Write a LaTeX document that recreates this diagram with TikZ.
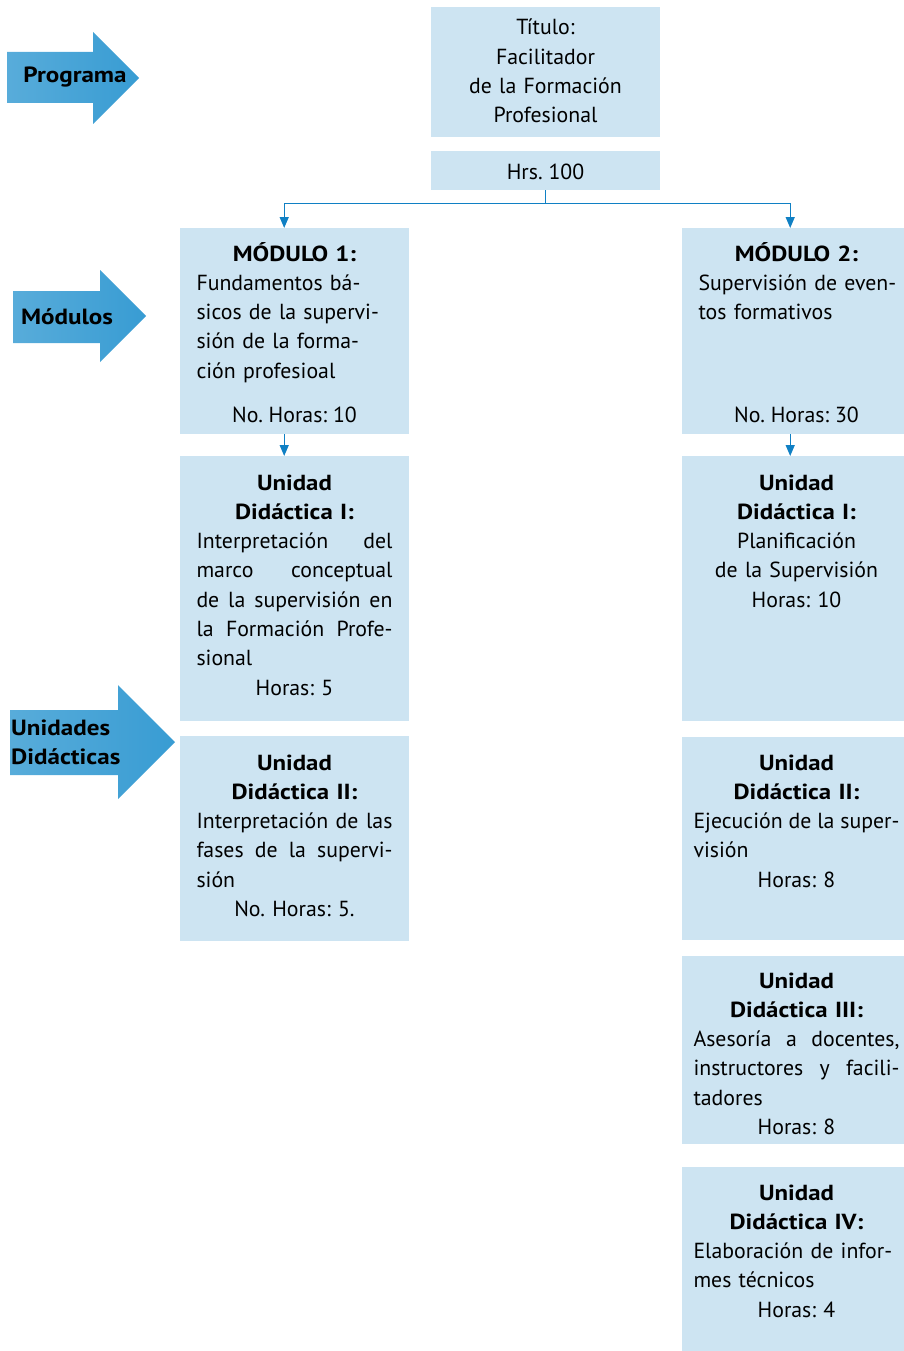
\documentclass[tikz,border=0pt]{standalone}
\usepackage{fontspec}
\setmainfont{PT Sans}[BoldFeatures={FakeStretch=1.14}]
\usepackage{xcolor}
\usetikzlibrary{positioning,arrows.meta}

\definecolor{cajaazul}{RGB}{205,228,242}
\definecolor{lineaazul}{RGB}{16,128,196}
\definecolor{flechaA}{RGB}{88,172,218}
\definecolor{flechaB}{RGB}{130,194,228}
\definecolor{flechaC}{RGB}{56,156,211}

\frenchspacing
% una linea a la izquierda / una linea justificada
\newcommand{\lft}[1]{\leavevmode\hbox to\linewidth{#1\hfil}}
\newcommand{\jst}[1]{\leavevmode\hbox to\linewidth{\spaceskip=.26em plus 1fil\relax #1}}

\begin{document}
\begin{tikzpicture}[x=1pt,y=-1pt,
	box/.style={fill=cajaazul, inner sep=0pt, anchor=north west, minimum width=229pt},
	txt/.style={anchor=base, align=center, inner sep=0pt, font=\fontsize{21.8}{29.3}\selectfont},
	etiq/.style={anchor=base, inner sep=0pt, font=\fontsize{22}{29}\selectfont\bfseries},
	link/.style={draw=lineaazul, line width=1.4pt, -{Triangle[length=11pt,width=9pt]}}]
			
			\useasboundingbox (0,0) rectangle (903,1351);
			
			% flechas de la izquierda
			\shade[left color=flechaA, middle color=flechaB, right color=flechaC]
				(7,52) -- (93,52) -- (93,32) -- (139,78) -- (93,124) -- (93,103) -- (7,103) -- cycle;
			\shade[left color=flechaA, middle color=flechaB, right color=flechaC]
				(13,291) -- (100,291) -- (100,270) -- (146,316) -- (100,362) -- (100,343) -- (13,343) -- cycle;
			\shade[left color=flechaA, middle color=flechaB, right color=flechaC]
				(10,710) -- (118,710) -- (118,685) -- (175,742) -- (118,799) -- (118,775) -- (10,775) -- cycle;
			
			\node[etiq] (prog) at (75,83) {Programa};
			\node[etiq] (mods) at (67,324) {Módulos};
			\node[etiq, text width=130pt, align=left, anchor=base west] (unid) at (11,735) {Unidades\\Didácticas};
			
			% cajas
			\node[box, minimum height=130pt] (tit) at (431,7) {};
			\node[box, minimum height=39pt] (hrs) at (431,151) {};
			\node[box, minimum height=206pt] (modA) at (180,228) {};
			\node[box, minimum height=206pt] (modB) at (682,228) {};
			\node[box, minimum height=265pt] (udAi) at (180,456) {};
			\node[box, minimum height=205pt] (udAii) at (180,736) {};
			\node[box, minimum height=265pt] (udBi) at (682,456) {};
			\node[box, minimum height=203pt] (udBii) at (682,737) {};
			\node[box, minimum height=188pt] (udBiii) at (682,956) {};
			\node[box, minimum height=190pt] (udBiv) at (682,1167) {};
			
			% textos
			\node[txt, text width=229pt] (titT) at (545.5,35) {Título:\\Facilitador\\de la Formación\\Profesional};
			\node[txt] (hrsT) at (545.5,180) {Hrs. 100};
			
			\node[txt, text width=196pt] (modAT) at (294.5,261) {{\bfseries MÓDULO 1:}\\\lft{Fundamentos bá-}\\\lft{sicos de la supervi-}\\\lft{sión de la forma-}\\\lft{ción profesioal}};
			\node[txt] (modAH) at (294.5,422) {No. Horas: 10};
			\node[txt, text width=196pt] (modBT) at (796.5,261) {{\bfseries MÓDULO 2:}\\\lft{Supervisión de even-}\\\lft{tos formativos}};
			\node[txt] (modBH) at (796.5,422) {No. Horas: 30};
			
			\node[txt, text width=196pt] (udAiT) at (294.5,490) {{\bfseries Unidad\\Didáctica I:}\\\jst{Interpretación del}\\\jst{marco conceptual}\\\jst{de la supervisión en}\\\jst{la Formación Profe-}\\\lft{sional}\\Horas: 5};
			\node[txt, text width=196pt] (udAiiT) at (294.5,770) {{\bfseries Unidad\\Didáctica II:}\\\jst{Interpretación de las}\\\jst{fases de la supervi-}\\\lft{sión}\\No. Horas: 5.};
			
			\node[txt, text width=206pt] (udBiT) at (796.5,490) {{\bfseries Unidad\\Didáctica I:}\\Planificación\\de la Supervisión\\Horas: 10};
			\node[txt, text width=206pt] (udBiiT) at (796.5,770) {{\bfseries Unidad\\Didáctica II:}\\\jst{Ejecución de la super-}\\\lft{visión}\\Horas: 8};
			\node[txt, text width=206pt] (udBiiiT) at (796.5,988) {{\bfseries Unidad\\Didáctica III:}\\\jst{Asesoría a docentes,}\\\jst{instructores y facili-}\\\lft{tadores}\\Horas: 8};
			\node[txt, text width=206pt] (udBivT) at (796.5,1200) {{\bfseries Unidad\\Didáctica IV:}\\\lft{Elaboración de infor-}\\\lft{mes técnicos}\\Horas: 4};
			
			% conectores
			\draw[link] (hrs.south) -- ++(0,13) -| ([xshift=-10.5]modA.north);
			\draw[link] (hrs.south) -- ++(0,13) -| ([xshift=-6.5]modB.north);
			\draw[link] ([xshift=-10.5]modA.south) -- ([xshift=-10.5]udAi.north);
			\draw[link] ([xshift=-6.5]modB.south) -- ([xshift=-6.5]udBi.north);
			
		\end{tikzpicture}
\end{document}
